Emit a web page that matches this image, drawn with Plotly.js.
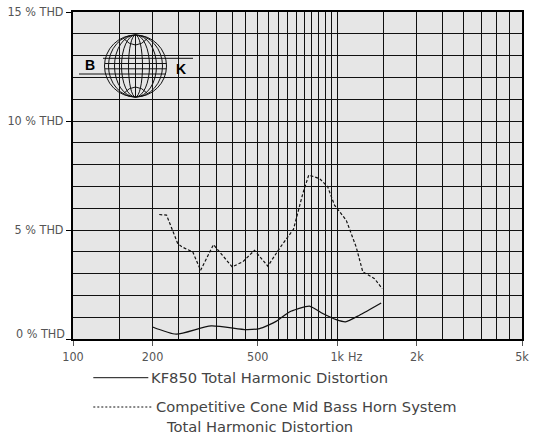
<!DOCTYPE html>
<html><head><meta charset="utf-8">
<script src="https://cdn.plot.ly/plotly-3.0.1.min.js"></script>
<style>html,body{margin:0;padding:0;background:#fff}#chart{width:541px;height:437px}</style>
</head><body><div id="chart"></div>
<script>
// ---- data ----
const kfFreq = [200, 246, 333, 452, 508, 587, 659, 709, 785, 881, 991, 1074, 1213, 1466];
const kfThd  = [0.55, 0.22, 0.60, 0.43, 0.48, 0.81, 1.24, 1.38, 1.51, 1.17, 0.89, 0.79, 1.09, 1.65];
const hornFreq = [212, 226, 249, 259, 284, 304, 340, 369, 400, 439, 486, 546, 604, 683, 741, 780, 857, 920, 976, 1081, 1179, 1249, 1383, 1479];
const hornThd  = [5.71, 5.68, 4.38, 4.22, 3.99, 3.15, 4.33, 3.84, 3.31, 3.54, 4.07, 3.34, 4.15, 5.04, 6.68, 7.52, 7.36, 6.98, 6.14, 5.45, 4.22, 3.08, 2.77, 2.31];
const xTickVals = [100, 200, 500, 1000, 2000, 5000];
const xTickText = ['100', '200', '500', '1k', '2k', '5k'];
const xGridVals = [150, 250, 300, 350, 400, 450, 550, 600, 650, 700, 750, 800, 850, 900, 950, 1500, 2500, 3000, 3500, 4000, 4500];
const yTickVals = [0, 5, 10, 15];
const yTickText = ['', '5 % THD', '10 % THD', '15 % THD'];
const yZeroLabel = '0 % THD';
const legendNames = ['KF850 Total Harmonic Distortion', 'Competitive Cone Mid Bass Horn System', 'Total Harmonic Distortion'];

// ---- layout helpers (pixel -> paper) ----
const L = 73, T = 12, W = 449, H = 327;
const px = p => (p - L) / W;
const py = p => (T + H - p) / H;
const ink = '#111';

const shapes = [];
function line(x0, y0, x1, y1, dash) {
  shapes.push({type: 'line', xref: 'paper', yref: 'paper', x0: px(x0), y0: py(y0), x1: px(x1), y1: py(y1),
    line: {color: ink, width: 1, dash: dash || 'solid'}});
}
function ellipse(cx, cy, rx, ry) {
  shapes.push({type: 'circle', xref: 'paper', yref: 'paper', x0: px(cx - rx), x1: px(cx + rx), y0: py(cy + ry), y1: py(cy - ry),
    line: {color: ink, width: 1}});
}
function quad(x0, y0, cx, cy, x1, y1) {
  shapes.push({type: 'path', xref: 'paper', yref: 'paper',
    path: `M ${px(x0)} ${py(y0)} Q ${px(cx)} ${py(cy)} ${px(x1)} ${py(y1)}`, line: {color: ink, width: 1}});
}
// B&K globe logo
const gx = 135.5, gy = 66, gr = 31;
ellipse(gx, gy, gr, gr);
[27, 21, 14, 7].forEach(rx => ellipse(gx, gy, rx, gr));
line(gx, gy - gr, gx, gy + gr);
quad(123, 38, gx, 52, 148, 38);
quad(123, 94, gx, 80, 148, 94);
line(103, 58.3, 193, 58.3);
line(105, 63.5, 166.5, 63.5);
line(105, 68.8, 166.5, 68.8);
line(79, 74, 166, 74);

// legend samples
line(93.3, 377.7, 148.3, 377.7);
line(93.3, 407, 153.3, 407, '2px,2px');

const gridFont = {family: 'DejaVu Sans Condensed, Liberation Sans Narrow, Liberation Sans, sans-serif', size: 12.5, color: '#555'};
const legFont = {family: 'DejaVu Sans, sans-serif', size: 14.7, color: '#444'};
const logoFont = {family: 'Liberation Sans, Arial, sans-serif', size: 14, color: '#000'};

const annotations = [
  {xref: 'paper', yref: 'paper', x: px(89.5), y: py(64.8), text: '<b>B</b>', showarrow: false, font: logoFont, xanchor: 'center', yanchor: 'middle'},
  {xref: 'paper', yref: 'paper', x: px(181), y: py(68.8), text: '<b>K</b>', showarrow: false, font: logoFont, xanchor: 'center', yanchor: 'middle'},
  {xref: 'paper', yref: 'paper', x: px(148.5), y: py(377.5), text: legendNames[0], showarrow: false, font: legFont, xanchor: 'left', yanchor: 'middle'},
  {xref: 'paper', yref: 'paper', x: px(153.5), y: py(406), text: legendNames[1], showarrow: false, font: legFont, xanchor: 'left', yanchor: 'middle'},
  {xref: 'paper', yref: 'paper', x: px(164), y: py(427), text: legendNames[2], showarrow: false, font: legFont, xanchor: 'left', yanchor: 'middle'},
  {xref: 'paper', yref: 'paper', x: px(67), y: py(333), text: yZeroLabel, showarrow: false, font: gridFont, xanchor: 'right', yanchor: 'middle'},
  {xref: 'paper', yref: 'paper', x: px(345.5), y: py(356), text: 'Hz', showarrow: false, font: gridFont, xanchor: 'left', yanchor: 'middle'}
];

const traces = [
  {x: kfFreq, y: kfThd, type: 'scatter', mode: 'lines', name: legendNames[0],
    line: {color: ink, width: 1.3, shape: 'spline', smoothing: 0.6}},
  {x: hornFreq, y: hornThd, type: 'scatter', mode: 'lines', name: legendNames[1],
    line: {color: ink, width: 1.2, dash: '3px,2px'}}
];

const layout = {
  width: 541, height: 437,
  margin: {l: L, r: 541 - L - W, t: T, b: 437 - T - H, pad: 0},
  paper_bgcolor: '#fff', plot_bgcolor: '#e6e6e6',
  showlegend: false,
  xaxis: {type: 'log', range: [Math.log10(100), Math.log10(5000)],
    tickmode: 'array', tickvals: xTickVals, ticktext: xTickText,
    ticks: 'outside', ticklen: 5, tickcolor: '#555', tickwidth: 1,
    showgrid: true, gridcolor: ink, gridwidth: 1,
    minor: {tickmode: 'array', tickvals: xGridVals, showgrid: true, gridcolor: ink, gridwidth: 1, ticks: ''},
    showline: true, linecolor: '#000', linewidth: 2, mirror: true,
    tickfont: gridFont, zeroline: false, fixedrange: true},
  yaxis: {range: [0, 15], tickmode: 'array', tickvals: yTickVals, ticktext: yTickText,
    ticks: 'outside', ticklen: 5, tickcolor: '#000', tickwidth: 1,
    showgrid: true, gridcolor: ink, gridwidth: 1,
    minor: {dtick: 1, showgrid: true, gridcolor: ink, gridwidth: 1, ticks: ''},
    showline: true, linecolor: '#000', linewidth: 2, mirror: true,
    tickfont: gridFont, zeroline: false, fixedrange: true},
  shapes: shapes,
  annotations: annotations
};

Plotly.newPlot('chart', traces, layout, {displayModeBar: false, staticPlot: true});
</script>
</body></html>
